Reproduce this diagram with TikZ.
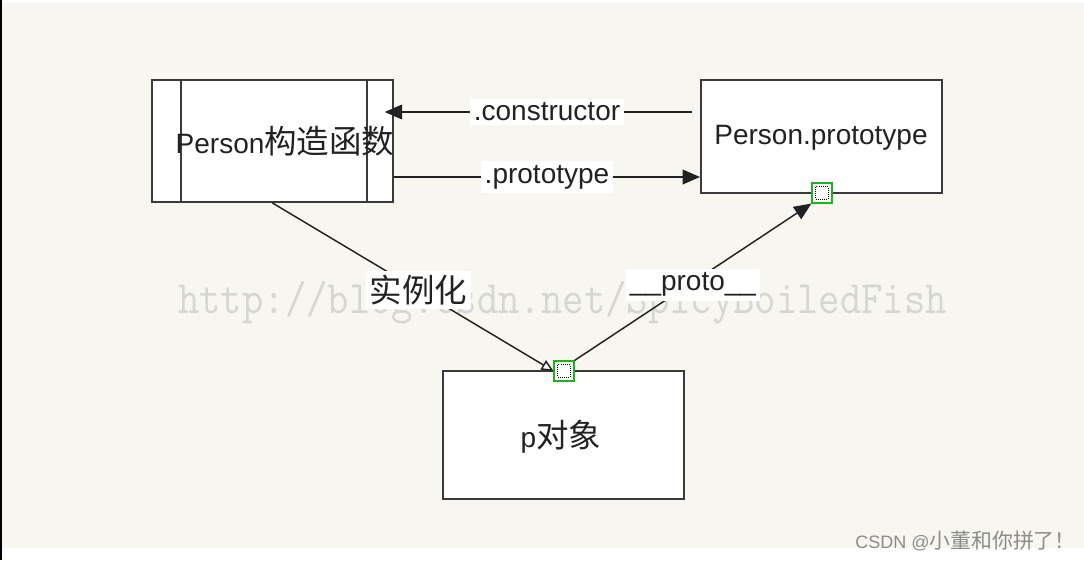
\documentclass[tikz,border=0pt]{standalone}
\usepackage{fontspec}
\setmainfont{Liberation Sans}
\newfontfamily\cjk{Noto Sans CJK SC}[Scale=1.16]
\usetikzlibrary{arrows.meta,calc}
\definecolor{paper}{HTML}{F7F6F1}
\definecolor{ink}{HTML}{222222}
\definecolor{edge}{HTML}{3A3A3A}
\definecolor{wmark}{HTML}{D6D6D2}
\definecolor{handle}{HTML}{1FB21F}
\definecolor{sig}{HTML}{8C8C8C}

\begin{document}
\begin{tikzpicture}[x=0.75pt,y=-0.75pt,
   bx/.style={draw=edge,line width=1.5pt,fill=white,minimum width=180.75pt,minimum height=#1,inner sep=0pt},
   txt/.style={font=\fontsize{21}{24}\selectfont,text=ink,inner sep=1pt},
   lab/.style={txt,fill=white,inner sep=3pt},
   hd/.style={draw=handle,line width=1.3pt,fill=white,minimum size=14.5pt,inner sep=0pt,
     path picture={\draw[densely dotted,black,line width=0.6pt]
       ([shift={(2.5pt,-2.5pt)}]path picture bounding box.north west) rectangle
       ([shift={(-2.5pt,2.5pt)}]path picture bounding box.south east);}},
   link/.style={draw=ink,line width=1.1pt},
   arr/.style={link,-{Triangle[length=13pt,width=11pt]}},
   oarr/.style={link,-{Triangle[open,fill=white,length=9pt,width=8pt]}}]
  \useasboundingbox (0,0) rectangle (1084,560);
  \fill[white] (0,0) rectangle (1084,560);
  \fill[paper] (2,3) rectangle (1084,548);
  \draw[black,line width=1.5pt] (1,0) -- (1,560);
  \node[font=\fontsize{31.1}{32}\ttfamily,text=wmark,inner sep=0pt,anchor=base west,
    yscale=1.12,transform shape] (wm) at (178,313) {http://blog.csdn.net/SpicyBoiledFish};

  \node[bx=91.5pt] (pc) at (272.5,141) {};
  \draw[edge,line width=1.5pt] ($(pc.north west)+(30,0)$) -- ($(pc.south west)+(30,0)$);
  \draw[edge,line width=1.5pt] ($(pc.north east)+(-27,0)$) -- ($(pc.south east)+(-27,0)$);
  \node[txt] (pct) at (285,141) {Person{\cjk 构造函数}};
  \node[bx=84.75pt] (pp) at (821.5,136.5) {};
  \node[txt] (ppt) at (821,138) {Person.prototype};
  \node[bx=96pt] (po) at (563.5,435) {};
  \node[txt] (pot) at (561,437) {p{\cjk 对象}};

  \node[hd] (h1) at (822,193) {};
  \node[hd] (h2) at (564,371) {};

  \draw[arr,shorten <=6pt,shorten >=-7pt] (pp.west |- 0,112) -- node[lab] (lc) {.constructor} (pc.east |- 0,112);
  \draw[arr] (pc.east |- 0,177) -- node[lab] (lp) {.prototype} (pp.west |- 0,177);
  \draw[oarr] (pc.south) -- node[lab,pos=0.52] (li) {\cjk 实例化} (h2.west);
  \draw[arr] (h2.north east) -- node[lab,yshift=-2pt] (lq) {\_\_proto\_\_} (h1.south west);

  \node[font=\fontsize{13.5}{15}\selectfont,text=sig,anchor=east,inner sep=0pt] (sg) at (1076,541)
    {CSDN @{\cjk 小董和你拼了！}};
\end{tikzpicture}
\end{document}
